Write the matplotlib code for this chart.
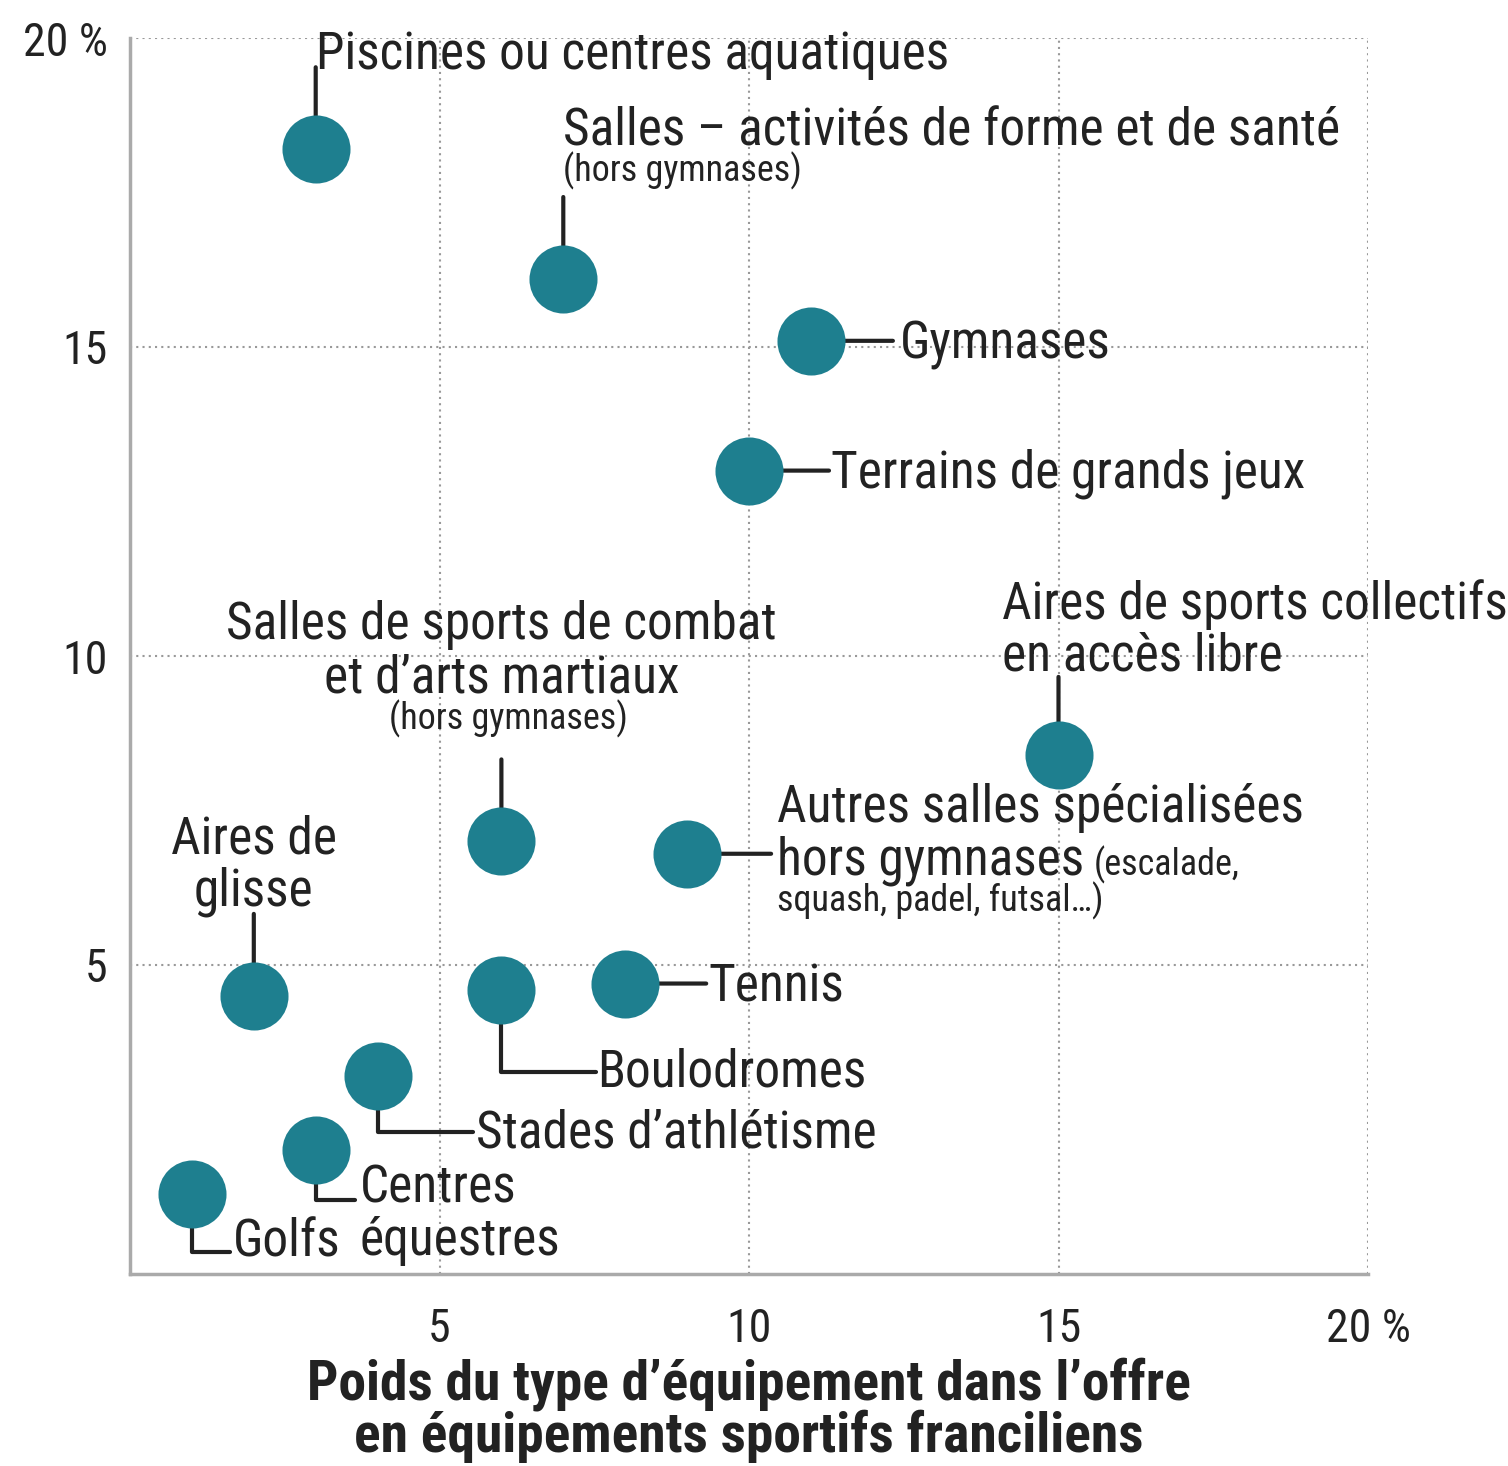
import matplotlib
matplotlib.use("Agg")
import matplotlib.pyplot as plt

plt.rcParams["font.family"] = ["Roboto Condensed", "DejaVu Sans"]

# poids dans l'offre (x) et part de la pratique (y), en %
labels = [
    "Piscines ou centres aquatiques",
    "Salles – activités de forme et de santé",
    "Gymnases",
    "Terrains de grands jeux",
    "Aires de sports collectifs en accès libre",
    "Salles de sports de combat et d'arts martiaux",
    "Autres salles spécialisées",
    "Aires de glisse",
    "Boulodromes",
    "Tennis",
    "Stades d'athlétisme",
    "Centres équestres",
    "Golfs",
]
x_vals = [3.0, 7.0, 11.0, 10.0, 15.0, 6.0, 9.0, 2.0, 6.0, 8.0, 4.0, 3.0, 1.0]
y_vals = [18.2, 16.1, 15.1, 13.0, 8.4, 7.0, 6.8, 4.5, 4.6, 4.7, 3.2, 2.0, 1.3]

ticks = [5, 10, 15, 20]
x_ticklabels = ["5", "10", "15", "20 %"]
y_ticklabels = ["5", "10", "15", "20 %"]
xlabel = "Poids du type d\u2019équipement dans l\u2019offre\nen équipements sportifs franciliens"

TEAL = "#1e7f8f"
INK = "#222222"
BIG, SMALL = 37, 26

# leader: ("v"|"h"|"elbow", dx, dy) in pixels; texts: (text, dx, dy, ha, size)
layout = {
    0: (("v", 0, 82), [("Piscines ou centres aquatiques", 0, 80, "left", BIG)]),
    1: (("v", 0, 82), [("Salles \u2013 activités de forme et de santé", 0, 134, "left", BIG),
                      ("(hors gymnases)", 0, 98, "left", SMALL)]),
    2: (("h", 82, 0), [("Gymnases", 89, -18, "left", BIG)]),
    3: (("h", 80, 0), [("Terrains de grands jeux", 82, -17, "left", BIG)]),
    4: (("v", 0, 78), [("Aires de sports collectifs", -56, 136, "left", BIG),
                      ("en accès libre", -56, 84, "left", BIG)]),
    5: (("v", 0, 82), [("Salles de sports de combat", 0, 202, "center", BIG),
                      ("et d\u2019arts martiaux", 0, 149, "center", BIG),
                      ("(hors gymnases)", 7, 112, "center", SMALL)]),
    6: (("h", 84, 0), [("Autres salles spécialisées", 90, 32, "left", BIG),
                      ("hors gymnases", 90, -21, "left", BIG),
                      ("squash, padel, futsal\u2026)", 90, -58, "left", SMALL)]),
    7: (("v", 0, 82), [("Aires de", 0, 142, "center", BIG),
                      ("glisse", 0, 90, "center", BIG)]),
    8: (("elbow", 95, -82), [("Boulodromes", 96, -97, "left", BIG)]),
    9: (("h", 81, 0), [("Tennis", 83, -18, "left", BIG)]),
    10: (("elbow", 95, -56), [("Stades d\u2019athlétisme", 98, -71, "left", BIG)]),
    11: (("elbow", 39, -50), [("Centres", 44, -52, "left", BIG),
                             ("équestres", 44, -105, "left", BIG)]),
    12: (("elbow", 38, -58), [("Golfs", 41, -63, "left", BIG)]),
}

fig = plt.figure(figsize=(15.08, 14.66), dpi=100)
ax = fig.add_axes([130 / 1508, 1 - 1274 / 1466, 1238 / 1508, 1236 / 1466])
ax.set_xlim(0, 20)
ax.set_ylim(0, 20)

ax.set_xticks(ticks)
ax.set_xticklabels(x_ticklabels)
ax.set_yticks(ticks)
ax.set_yticklabels(y_ticklabels)
ax.tick_params(length=0, labelsize=33, colors=INK)
ax.tick_params(axis="x", pad=24)
ax.tick_params(axis="y", pad=16)
ax.grid(True, color="#999999", linestyle=(0, (1, 2)), linewidth=1.5)
ax.set_axisbelow(True)
for side in ["top", "right"]:
    ax.spines[side].set_visible(False)
for side in ["left", "bottom"]:
    ax.spines[side].set_color("#aaaaaa")
    ax.spines[side].set_linewidth(2.5)

ax.set_xlabel(xlabel, fontsize=40, fontweight="bold", color=INK, labelpad=4,
              linespacing=0.98)

ax.scatter(x_vals, y_vals, s=2400, color=TEAL, zorder=4, linewidths=0)

for i, (x, y) in enumerate(zip(x_vals, y_vals)):
    (kind, ldx, ldy), texts = layout[i]
    cs = "angle,angleA=0,angleB=90,rad=0" if kind == "elbow" else "arc3"
    ax.annotate("", xy=(x, y), xytext=(ldx, ldy), textcoords="offset pixels",
                arrowprops=dict(arrowstyle="-", color=INK, lw=3,
                                shrinkA=0, shrinkB=0, connectionstyle=cs),
                zorder=3)
    for txt, tdx, tdy, ha, size in texts:
        t = ax.annotate(txt, xy=(x, y), xytext=(tdx, tdy), textcoords="offset pixels",
                        ha=ha, va="baseline", fontsize=size, color=INK, zorder=5)
        if txt == "hors gymnases":
            ax.annotate("(escalade,", xy=(1, 0), xycoords=t, xytext=(10, 11),
                        textcoords="offset pixels", ha="left", va="baseline",
                        fontsize=SMALL, color=INK, zorder=5)

fig.savefig("out.png", dpi=100)
